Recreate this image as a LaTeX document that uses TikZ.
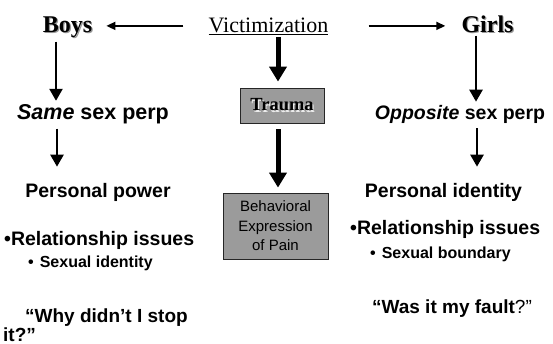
\documentclass[tikz,border=0pt]{standalone}
\usepackage{fontspec}
\setmainfont{Liberation Serif}
\setsansfont{Liberation Sans}
\usetikzlibrary{arrows.meta}

\definecolor{boxgray}{RGB}{155,155,155}
\newcommand{\fs}[2]{\fontsize{#1bp}{#2bp}\selectfont}
% text with a small drop shadow
\newcommand{\shtxt}[2][black!40]{%
  \makebox[0pt][l]{\hspace{1.2bp}\raisebox{-1.2bp}{\textcolor{#1}{#2}}}#2}

\tikzset{
  lbl/.style={inner sep=0pt, anchor=base},
  head/.style={lbl, font=\fs{24}{28}\rmfamily\bfseries},
  item/.style={lbl, font=\fs{19.5}{22}\sffamily\bfseries},
  subitem/.style={lbl, anchor=base west, font=\fs{16}{19}\sffamily\bfseries},
  graybox/.style={draw=black!85, line width=0.8bp, fill=boxgray, inner sep=0pt},
  sidearrow/.style={line width=1.6bp, -{Triangle[length=9bp,width=8bp]}},
  downarrow/.style={line width=2.5bp, -{Triangle[length=12bp,width=13bp]}},
  bigarrow/.style={line width=5bp, -{Triangle[length=15bp,width=17bp]}}
}

\begin{document}
\begin{tikzpicture}[x=1bp,y=-1bp]
  \useasboundingbox (0,0) rectangle (553,343);

  % top row
  \node[head] (boys) at (67.5,32) {\shtxt{Boys}};
  \node[lbl, font=\fs{22}{26}\rmfamily] (vict) at (268.5,32) {\underline{Victimization}};
  \node[head] (girls) at (487.5,32) {\shtxt{Girls}};

  % middle column
  \node[graybox, minimum width=84bp, minimum height=35bp,
        font=\fs{18.5}{22}\rmfamily\bfseries] (trauma) at (282,105.5) {\shtxt[white!85!gray]{Trauma}};
  \node[graybox, minimum width=105bp, minimum height=66bp, align=center,
        font=\fs{15}{19.5}\sffamily] (behav) at (275.5,226)
        {Behavioral\\Expression\\of Pain};

  % boys side
  \node[lbl, font=\fs{21.5}{25}\sffamily\bfseries] (same) at (93,119) {\textit{Same} sex perp};
  \node[item] (ppow) at (98,197) {Personal power};
  \node[item, anchor=base west] (relb) at (4,245) {•Relationship issues};
  \node[subitem] (sexid) at (28,267) {•\hspace{6bp}Sexual identity};
  \node[inner sep=0pt, anchor=north west, align=left,
        font=\fs{19}{15}\sffamily\bfseries] (why) at (3,309)
        {\hspace*{22bp}“Why didn’t I stop\\it?”};

  % girls side
  \node[lbl, font=\fs{19.5}{23}\sffamily\bfseries] (opp) at (460,119) {\textit{Opposite} sex perp};
  \node[item] (pid) at (443.5,197) {Personal identity};
  \node[item, anchor=base west] (relg) at (350,234) {•Relationship issues};
  \node[subitem] (sexb) at (370,258) {•\hspace{6bp}Sexual boundary};
  \node[lbl, font=\fs{19}{22}\sffamily\bfseries] (fault) at (452,313)
        {“Was it my fault{\mdseries?”}};

  % arrows
  \draw[sidearrow, shorten <=25bp, shorten >=14bp] (vict.west) -- (vict.west -| boys.east);
  \draw[sidearrow, shorten <=40bp, shorten >=16bp] (vict.east) -- (vict.east -| girls.west);
  \draw[bigarrow, shorten <=2.5bp, shorten >=6bp]
    ([xshift=9.5bp]vict.south) -- ([xshift=9.5bp]vict.south |- trauma.north);
  \draw[bigarrow, shorten <=6bp, shorten >=5bp]
    ([xshift=-4bp]trauma.south) -- ([xshift=-4bp]trauma.south |- behav.north);
  \draw[downarrow, shorten <=3bp, shorten >=3bp]
    ([xshift=-11.5bp]boys.south) -- ([xshift=-11.5bp]boys.south |- same.north);
  \draw[downarrow, shorten <=5bp, shorten >=16bp]
    ([xshift=-36bp]same.south) -- ([xshift=-36bp]same.south |- ppow.north);
  \draw[downarrow, shorten <=2bp, shorten >=3bp]
    ([xshift=-11.5bp]girls.south) -- ([xshift=-11.5bp]girls.south |- opp.north);
  \draw[downarrow, shorten <=5bp, shorten >=16bp]
    ([xshift=17bp]opp.south) -- ([xshift=17bp]opp.south |- pid.north);
\end{tikzpicture}
\end{document}
